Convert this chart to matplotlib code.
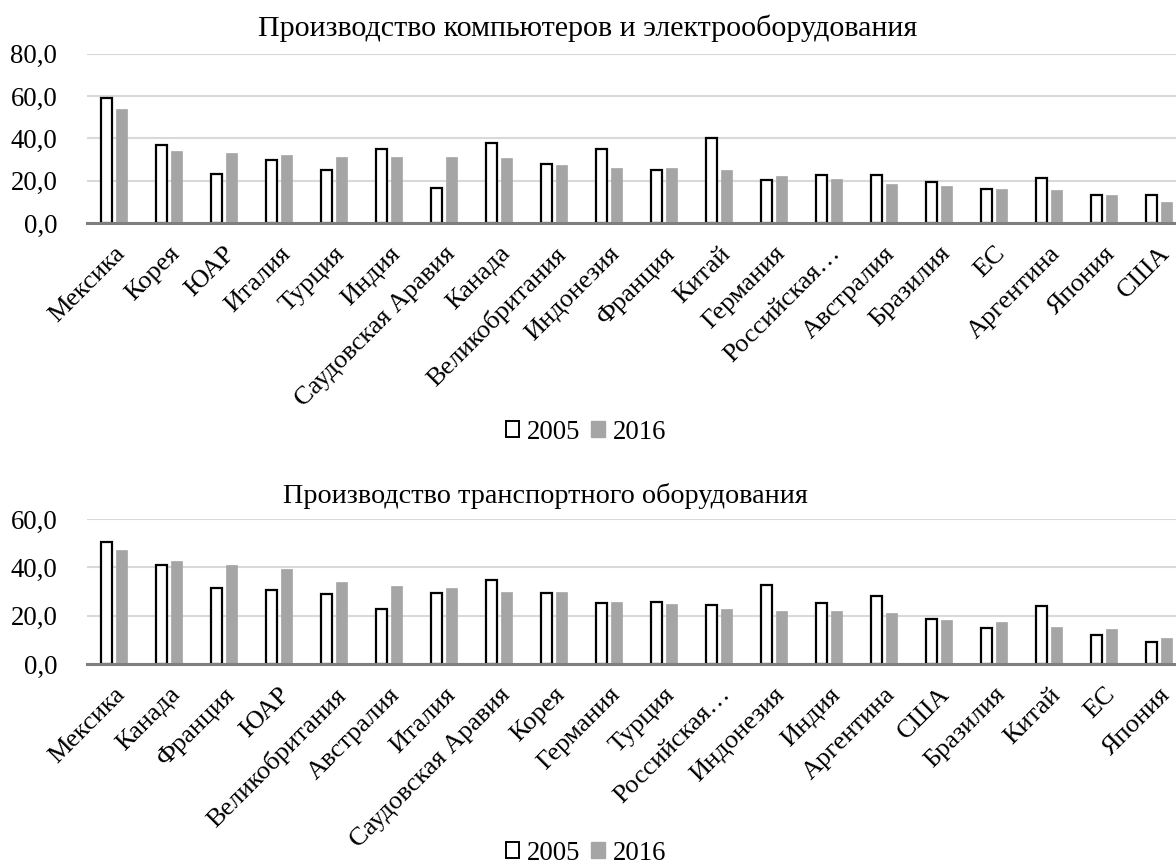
import matplotlib
matplotlib.use("Agg")
import matplotlib.pyplot as plt
from matplotlib.ticker import FuncFormatter, MultipleLocator
from matplotlib.patches import Patch
import numpy as np

plt.rcParams['font.family'] = ['Liberation Serif', 'DejaVu Serif']

# --- Data: computers & electrical equipment ---
cats1 = ["Мексика", "Корея", "ЮАР", "Италия", "Турция", "Индия", "Саудовская Аравия",
         "Канада", "Великобритания", "Индонезия", "Франция", "Китай", "Германия",
         "Российская…", "Австралия", "Бразилия", "ЕС", "Аргентина", "Япония", "США"]
v1_2005 = [59.2, 36.8, 23.2, 29.9, 25.0, 34.8, 16.6, 37.8, 27.8, 34.8,
           25.1, 40.1, 20.4, 22.7, 22.6, 19.6, 16.3, 21.3, 13.3, 13.3]
v1_2016 = [53.9, 33.8, 32.9, 31.9, 31.1, 31.0, 31.0, 30.6, 27.5, 26.2,
           26.2, 25.0, 22.4, 20.9, 18.5, 17.5, 16.3, 15.8, 13.3, 9.8]

# --- Data: transport equipment ---
cats2 = ["Мексика", "Канада", "Франция", "ЮАР", "Великобритания", "Австралия", "Италия",
         "Саудовская Аравия", "Корея", "Германия", "Турция", "Российская…", "Индонезия",
         "Индия", "Аргентина", "США", "Бразилия", "Китай", "ЕС", "Япония"]
v2_2005 = [50.3, 41.1, 31.4, 30.8, 28.8, 22.6, 29.2, 34.9, 29.4, 25.1,
           25.7, 24.6, 32.6, 25.2, 28.0, 18.8, 14.9, 24.0, 12.1, 9.1]
v2_2016 = [47.0, 42.6, 41.0, 39.3, 33.8, 32.4, 31.4, 29.7, 29.7, 25.5,
           25.0, 22.8, 21.9, 21.8, 21.0, 18.1, 17.2, 15.3, 14.3, 10.8]

series_labels = ["2005", "2016"]
titles = ["Производство компьютеров и электрооборудования",
          "Производство транспортного оборудования"]

W, H = 1176, 868
fig = plt.figure(figsize=(W / 100, H / 100), dpi=100)

GRAY = "#a5a5a5"
GRID = "#d9d9d9"
AXIS = "#7f7f7f"
FS = 19.3


def make_axes(px_left, px_top, px_right, px_bottom):
    return fig.add_axes([px_left / W, 1 - px_bottom / H,
                         (px_right - px_left) / W, (px_bottom - px_top) / H])


def draw(ax, cats, a, b, ymax, step):
    x = np.arange(len(cats))
    bw = 0.21
    off = 0.14
    ax.bar(x - off, a, width=bw, color="white", edgecolor="black", linewidth=1.6, zorder=3)
    ax.bar(x + off, b, width=bw, color=GRAY, edgecolor=GRAY, linewidth=0.5, zorder=3)
    ax.set_xlim(-0.5, len(cats) - 0.5)
    ax.set_ylim(0, ymax)
    ax.yaxis.set_major_locator(MultipleLocator(step))
    ax.yaxis.set_major_formatter(FuncFormatter(lambda v, p: f"{v:.1f}".replace(".", ",")))
    ax.grid(axis="y", color=GRID, linewidth=1.5, zorder=0)
    ax.set_axisbelow(True)
    for s in ["top", "right", "left"]:
        ax.spines[s].set_visible(False)
    ax.spines["bottom"].set_color(AXIS)
    ax.spines["bottom"].set_linewidth(2.2)
    ax.spines["bottom"].set_zorder(4)
    ax.tick_params(axis="y", length=0, labelsize=FS, pad=21)
    ax.tick_params(axis="x", length=0, labelsize=19, pad=14)
    ax.set_xticks(x)
    ax.set_xticklabels(cats, rotation=45, ha="right", rotation_mode="anchor")


ax1 = make_axes(86.5, 53.7, 1186.5, 223)
draw(ax1, cats1, v1_2005, v1_2016, 80, 20)
ax2 = make_axes(86.5, 519, 1186.5, 664)
draw(ax2, cats2, v2_2005, v2_2016, 60, 20)

fig.text(588 / W, 1 - 28 / H, titles[0], ha="center", va="center", fontsize=21.6)
fig.text(545 / W, 1 - 496 / H, titles[1], ha="center", va="center", fontsize=20.3)

handles = [Patch(facecolor="white", edgecolor="black", linewidth=1.4, label=series_labels[0]),
           Patch(facecolor=GRAY, edgecolor=GRAY, label=series_labels[1])]
for yc in (432, 853):
    fig.legend(handles=handles, loc="center", bbox_to_anchor=(586 / W, 1 - yc / H),
               ncol=2, frameon=False, fontsize=FS, handlelength=0.5, handleheight=0.5,
               handletextpad=0.3, columnspacing=0.4, borderpad=0)

fig.savefig("out.png", dpi=100)
